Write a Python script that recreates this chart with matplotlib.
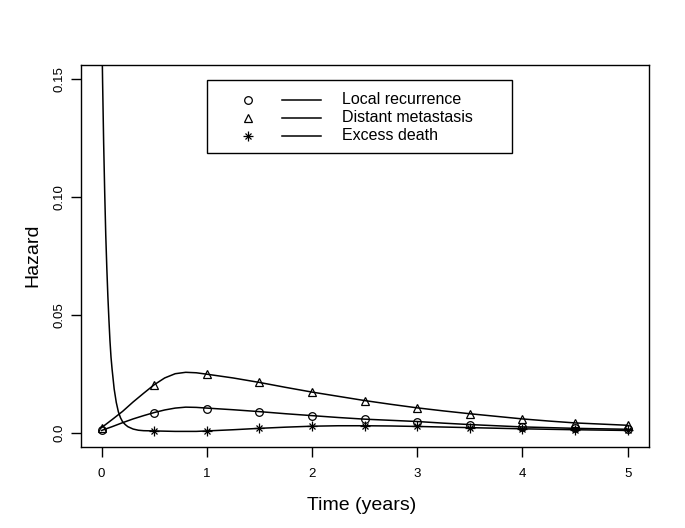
import numpy as np
import matplotlib
matplotlib.use("Agg")
import matplotlib.pyplot as plt
from matplotlib.patches import Rectangle
from matplotlib.lines import Line2D

plt.rcParams['font.family'] = ['Liberation Sans', 'DejaVu Sans']

# ---- data ----
series_names = ["Local recurrence", "Distant metastasis", "Excess death"]

# marker positions (years)
marker_t = [0, 0.5, 1, 1.5, 2, 2.5, 3, 3.5, 4, 4.5, 5]
local_pts = [0.0009, 0.0085, 0.0102, 0.0088, 0.0072, 0.0057, 0.0047, 0.0034, 0.0024, 0.0019, 0.0014]
distant_pts = [0.0021, 0.0203, 0.0248, 0.0213, 0.0172, 0.0136, 0.0105, 0.0080, 0.0058, 0.0041, 0.0031]
excess_pts = [0.20, 0.0007, 0.0007, 0.0019, 0.0027, 0.0029, 0.0026, 0.0021, 0.0016, 0.0011, 0.0009]

# smooth curves
curve_t = [0, 0.1, 0.2, 0.3, 0.4, 0.5, 0.6, 0.7, 0.8, 0.9, 1.0, 1.25, 1.5, 1.75, 2.0,
           2.25, 2.5, 2.75, 3.0, 3.25, 3.5, 3.75, 4.0, 4.25, 4.5, 4.75, 5.0]
local_curve = [0.0009, 0.0025, 0.0042, 0.0058, 0.0072, 0.0085, 0.0096, 0.0104, 0.0108, 0.0107,
               0.0104, 0.0097, 0.0089, 0.0080, 0.0072, 0.0064, 0.0057, 0.0052, 0.0047, 0.0040,
               0.0034, 0.0029, 0.0024, 0.0021, 0.0018, 0.0016, 0.0014]
distant_curve = [0.0021, 0.0055, 0.0090, 0.0130, 0.0167, 0.0203, 0.0232, 0.0250, 0.0256, 0.0254,
                 0.0248, 0.0232, 0.0213, 0.0192, 0.0172, 0.0154, 0.0136, 0.0120, 0.0105, 0.0092,
                 0.0080, 0.0069, 0.0058, 0.0049, 0.0041, 0.0036, 0.0031]

excess_t = [0.0, 0.01, 0.02, 0.03, 0.04, 0.05, 0.06, 0.07, 0.08, 0.09, 0.10, 0.12, 0.14,
            0.16, 0.18, 0.20, 0.225, 0.25, 0.30, 0.35, 0.40, 0.50, 0.6, 0.7, 0.8, 0.9, 1.0,
            1.25, 1.5, 1.75, 2.0, 2.25, 2.5, 2.75, 3.0, 3.5, 4.0, 4.5, 5.0]
excess_curve = [0.180, 0.149, 0.123, 0.102, 0.084, 0.070, 0.058, 0.048, 0.039, 0.032, 0.027,
                0.0185, 0.0128, 0.0088, 0.0063, 0.0046, 0.0034, 0.0025, 0.0015, 0.0010, 0.0008,
                0.0007, 0.0006, 0.0005, 0.0005, 0.0005, 0.0007, 0.0012, 0.0018, 0.0023, 0.0027,
                0.0029, 0.0029, 0.0028, 0.0026, 0.0021, 0.0016, 0.0012, 0.0009]

x_ticks = [0, 1, 2, 3, 4, 5]
y_ticks = [0.0, 0.05, 0.10, 0.15]
y_tick_labels = ["0.0", "0.05", "0.10", "0.15"]

W, H = 685, 528
fig = plt.figure(figsize=(W / 100, H / 100), dpi=100)
L, R, T, B = 80.5, 648.7, 65.3, 446.7
ax = fig.add_axes([L / W, 1 - B / H, (R - L) / W, (B - T) / H])

lw = 1.1
ax.plot(curve_t, local_curve, color='black', lw=lw)
ax.plot(curve_t, distant_curve, color='black', lw=lw)
ax.plot(excess_t, excess_curve, color='black', lw=lw)

ms = 5.5
ax.plot(marker_t, local_pts, ls='none', marker='o', ms=ms, mfc='none', mec='black', mew=0.9)
ax.plot(marker_t, distant_pts, ls='none', marker='^', ms=ms, mfc='none', mec='black', mew=0.9)
ax.plot(marker_t, excess_pts, ls='none', marker='+', ms=ms + 1, mec='black', mew=0.9)
ax.plot(marker_t, excess_pts, ls='none', marker='x', ms=ms - 0.5, mec='black', mew=0.9)

ax.set_xlim(-0.2, 5.2)
ax.set_ylim(-0.006, 0.156)
ax.set_xticks(x_ticks)
ax.set_xticklabels([str(v) for v in x_ticks])
ax.set_yticks(y_ticks)
ax.set_yticklabels(y_tick_labels, rotation=90, va='center')
for s in ax.spines.values():
    s.set_linewidth(1.0)
    s.set_color('black')
ax.tick_params(axis='both', direction='out', length=7, width=1.0, labelsize=9.5, colors='black')
ax.tick_params(axis='x', pad=8)
ax.tick_params(axis='y', pad=4)

fig.text(362 / W, 1 - 505 / H, "Time (years)", ha='center', va='center', fontsize=14)
fig.text(32.5 / W, 1 - 255 / H, "Hazard", ha='center', va='center', rotation=90, fontsize=14)

# legend drawn manually
def fx(x):
    return x / W

def fy(y):
    return 1 - y / H

fig.add_artist(Rectangle((fx(207), fy(153)), fx(512) - fx(207), fy(80) - fy(153),
                         transform=fig.transFigure, fill=False, lw=1.0, ec='black'))
legend_markers = ['o', '^', 'star']
row_y = [99.5, 117.5, 135.5]
for name, mk, yy in zip(series_names, legend_markers, row_y):
    if mk == 'star':
        fig.add_artist(Line2D([fx(247.7)], [fy(yy)], transform=fig.transFigure, ls='none',
                              marker='+', ms=ms + 1, mec='black', mew=0.9))
        fig.add_artist(Line2D([fx(247.7)], [fy(yy)], transform=fig.transFigure, ls='none',
                              marker='x', ms=ms - 0.5, mec='black', mew=0.9))
    else:
        fig.add_artist(Line2D([fx(247.7)], [fy(yy)], transform=fig.transFigure, ls='none',
                              marker=mk, ms=ms, mfc='none', mec='black', mew=0.9))
    fig.add_artist(Line2D([fx(281.7), fx(320.7)], [fy(yy), fy(yy)], transform=fig.transFigure,
                          color='black', lw=lw))
    fig.text(fx(341.7), fy(yy), name, ha='left', va='center', fontsize=11.5)

fig.savefig("out.png", dpi=100)
